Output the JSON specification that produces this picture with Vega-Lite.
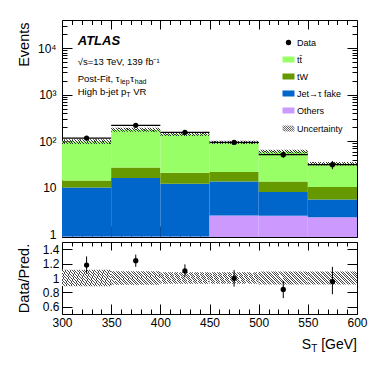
{
  "$schema": "https://vega.github.io/schema/vega-lite/v6.json",
  "background": "white",
  "padding": {"left": 15, "top": 19, "right": 5, "bottom": 5},
  "datasets": {
    "stack": [
      {"lo": 300, "hi": 350, "process": "Others", "events": 0.9},
      {"lo": 300, "hi": 350, "process": "Jet→τ fake", "events": 9.3},
      {"lo": 300, "hi": 350, "process": "tW", "events": 4.2},
      {"lo": 300, "hi": 350, "process": "tt̄", "events": 84.6},
      {"lo": 350, "hi": 400, "process": "Others", "events": 0.9},
      {"lo": 350, "hi": 400, "process": "Jet→τ fake", "events": 15.3},
      {"lo": 350, "hi": 400, "process": "tW", "events": 11.2},
      {"lo": 350, "hi": 400, "process": "tt̄", "events": 149.6},
      {"lo": 400, "hi": 450, "process": "Others", "events": 0.9},
      {"lo": 400, "hi": 450, "process": "Jet→τ fake", "events": 11.4},
      {"lo": 400, "hi": 450, "process": "tW", "events": 8.8},
      {"lo": 400, "hi": 450, "process": "tt̄", "events": 119.9},
      {"lo": 450, "hi": 500, "process": "Others", "events": 2.56},
      {"lo": 450, "hi": 500, "process": "Jet→τ fake", "events": 11.1},
      {"lo": 450, "hi": 500, "process": "tW", "events": 8.1},
      {"lo": 450, "hi": 500, "process": "tt̄", "events": 73.2},
      {"lo": 500, "hi": 550, "process": "Others", "events": 2.5},
      {"lo": 500, "hi": 550, "process": "Jet→τ fake", "events": 5.6},
      {"lo": 500, "hi": 550, "process": "tW", "events": 5.6},
      {"lo": 500, "hi": 550, "process": "tt̄", "events": 46.3},
      {"lo": 550, "hi": 600, "process": "Others", "events": 2.35},
      {"lo": 550, "hi": 600, "process": "Jet→τ fake", "events": 3.25},
      {"lo": 550, "hi": 600, "process": "tW", "events": 4.8},
      {"lo": 550, "hi": 600, "process": "tt̄", "events": 22.6}
    ],
    "bins": [
      {"lo": 300, "hi": 350, "mid": 325, "process": "Data", "data": 117, "data_lo": 106, "data_hi": 128, "pred_lo": 87.6, "pred_hi": 110.4, "ratio": 1.18, "ratio_lo": 1.06, "ratio_hi": 1.30, "rband_lo": 0.885, "rband_hi": 1.115},
      {"lo": 350, "hi": 400, "mid": 375, "process": "Data", "data": 219, "data_lo": 204, "data_hi": 234, "pred_lo": 160.2, "pred_hi": 193.8, "ratio": 1.24, "ratio_lo": 1.155, "ratio_hi": 1.325, "rband_lo": 0.905, "rband_hi": 1.095},
      {"lo": 400, "hi": 450, "mid": 425, "process": "Data", "data": 155, "data_lo": 142.5, "data_hi": 167.5, "pred_lo": 129.7, "pred_hi": 152.3, "ratio": 1.10, "ratio_lo": 1.01, "ratio_hi": 1.19, "rband_lo": 0.92, "rband_hi": 1.08},
      {"lo": 450, "hi": 500, "mid": 475, "process": "Data", "data": 94.5, "data_lo": 83.7, "data_hi": 105.3, "pred_lo": 87.4, "pred_hi": 102.6, "ratio": 0.995, "ratio_lo": 0.88, "ratio_hi": 1.11, "rband_lo": 0.92, "rband_hi": 1.08},
      {"lo": 500, "hi": 550, "mid": 525, "process": "Data", "data": 51.4, "data_lo": 44.2, "data_hi": 58.6, "pred_lo": 54.6, "pred_hi": 65.4, "ratio": 0.842, "ratio_lo": 0.72, "ratio_hi": 0.96, "rband_lo": 0.91, "rband_hi": 1.09},
      {"lo": 550, "hi": 600, "mid": 575, "process": "Data", "data": 31.4, "data_lo": 25.1, "data_hi": 37.7, "pred_lo": 30.0, "pred_hi": 36.0, "ratio": 0.95, "ratio_lo": 0.775, "ratio_hi": 1.155, "rband_lo": 0.91, "rband_hi": 1.09}
    ]
  },
  "config": {
    "font": "Liberation Sans",
    "view": {"stroke": "#000", "strokeWidth": 1},
    "axis": {
      "labelFont": "Liberation Sans", "titleFont": "Liberation Sans",
      "labelColor": "#000", "titleColor": "#000", "tickColor": "#000",
      "domain": false, "grid": false, "labelFlush": false, "labelOverlap": false,
      "labelBound": false, "titleFontWeight": "normal", "labelFontSize": 12, "titleFontSize": 14.5,
      "tickWidth": 1
    }
  },
  "spacing": 0,
  "vconcat": [
    {
      "width": 295,
      "height": 217,
      "resolve": {"axis": {"x": "independent", "y": "independent"}},
      "layer": [
        {
          "data": {"name": "stack"},
          "transform": [
            {"calculate": "indexof(['Others','Jet→τ fake','tW','tt̄'], datum.process)", "as": "ord"},
            {"stack": "events", "groupby": ["lo"], "sort": [{"field": "ord", "order": "ascending"}], "as": ["ev0", "ev1"]}
          ],
          "mark": {"type": "bar", "stroke": null},
          "encoding": {
            "x": {"field": "lo", "type": "quantitative", "scale": {"domain": [300, 600], "nice": false, "zero": false}, "axis": null},
            "x2": {"field": "hi"},
            "y": {"field": "ev1", "type": "quantitative", "scale": {"type": "log", "domain": [0.88, 40000], "nice": false, "clamp": true}, "axis": null},
            "y2": {"field": "ev0"},
            "color": {
              "field": "process", "type": "nominal",
              "scale": {"domain": ["Data", "tt̄", "tW", "Jet→τ fake", "Others", "Uncertainty"], "range": ["#000000", "#99ff66", "#669900", "#0066cc", "#cc99ff", "#888888"]},
              "legend": {"title": null, "orient": "none", "legendX": 222, "legendY": 18, "labelFontSize": 9, "labelFont": "Liberation Sans", "labelColor": "#000", "symbolSize": 144, "rowPadding": 7, "labelOffset": 4, "padding": 0, "symbolOpacity": 1, "symbolStrokeWidth": 0,
                "encode": {"symbols": {"update": {"size": {"signal": "datum.value === 'Data' ? 28 : 144"}, "strokeWidth": {"signal": "datum.value === 'Uncertainty' ? 0.9 : 0"}, "stroke": {"value": "#444"}}}}}
            }
          }
        },
        {
          "data": {"name": "bins"},
          "mark": {"type": "bar", "fill": {"gradient": "linear", "x1": 0, "y1": 1, "x2": 1.0741, "y2": 0.9127, "stops": [
            {"offset": 0, "color": "#333333"}, {"offset": 0.02, "color": "#333333"}, {"offset": 0.02, "color": "rgba(0,0,0,0)"}, {"offset": 0.05, "color": "rgba(0,0,0,0)"},
            {"offset": 0.05, "color": "#333333"}, {"offset": 0.07, "color": "#333333"}, {"offset": 0.07, "color": "rgba(0,0,0,0)"}, {"offset": 0.1, "color": "rgba(0,0,0,0)"},
            {"offset": 0.1, "color": "#333333"}, {"offset": 0.12, "color": "#333333"}, {"offset": 0.12, "color": "rgba(0,0,0,0)"}, {"offset": 0.15, "color": "rgba(0,0,0,0)"},
            {"offset": 0.15, "color": "#333333"}, {"offset": 0.17, "color": "#333333"}, {"offset": 0.17, "color": "rgba(0,0,0,0)"}, {"offset": 0.2, "color": "rgba(0,0,0,0)"},
            {"offset": 0.2, "color": "#333333"}, {"offset": 0.22, "color": "#333333"}, {"offset": 0.22, "color": "rgba(0,0,0,0)"}, {"offset": 0.25, "color": "rgba(0,0,0,0)"},
            {"offset": 0.25, "color": "#333333"}, {"offset": 0.27, "color": "#333333"}, {"offset": 0.27, "color": "rgba(0,0,0,0)"}, {"offset": 0.3, "color": "rgba(0,0,0,0)"},
            {"offset": 0.3, "color": "#333333"}, {"offset": 0.32, "color": "#333333"}, {"offset": 0.32, "color": "rgba(0,0,0,0)"}, {"offset": 0.35, "color": "rgba(0,0,0,0)"},
            {"offset": 0.35, "color": "#333333"}, {"offset": 0.37, "color": "#333333"}, {"offset": 0.37, "color": "rgba(0,0,0,0)"}, {"offset": 0.4, "color": "rgba(0,0,0,0)"},
            {"offset": 0.4, "color": "#333333"}, {"offset": 0.42, "color": "#333333"}, {"offset": 0.42, "color": "rgba(0,0,0,0)"}, {"offset": 0.45, "color": "rgba(0,0,0,0)"},
            {"offset": 0.45, "color": "#333333"}, {"offset": 0.47, "color": "#333333"}, {"offset": 0.47, "color": "rgba(0,0,0,0)"}, {"offset": 0.5, "color": "rgba(0,0,0,0)"},
            {"offset": 0.5, "color": "#333333"}, {"offset": 0.52, "color": "#333333"}, {"offset": 0.52, "color": "rgba(0,0,0,0)"}, {"offset": 0.55, "color": "rgba(0,0,0,0)"},
            {"offset": 0.55, "color": "#333333"}, {"offset": 0.57, "color": "#333333"}, {"offset": 0.57, "color": "rgba(0,0,0,0)"}, {"offset": 0.6, "color": "rgba(0,0,0,0)"},
            {"offset": 0.6, "color": "#333333"}, {"offset": 0.62, "color": "#333333"}, {"offset": 0.62, "color": "rgba(0,0,0,0)"}, {"offset": 0.65, "color": "rgba(0,0,0,0)"},
            {"offset": 0.65, "color": "#333333"}, {"offset": 0.67, "color": "#333333"}, {"offset": 0.67, "color": "rgba(0,0,0,0)"}, {"offset": 0.7, "color": "rgba(0,0,0,0)"},
            {"offset": 0.7, "color": "#333333"}, {"offset": 0.72, "color": "#333333"}, {"offset": 0.72, "color": "rgba(0,0,0,0)"}, {"offset": 0.75, "color": "rgba(0,0,0,0)"},
            {"offset": 0.75, "color": "#333333"}, {"offset": 0.77, "color": "#333333"}, {"offset": 0.77, "color": "rgba(0,0,0,0)"}, {"offset": 0.8, "color": "rgba(0,0,0,0)"},
            {"offset": 0.8, "color": "#333333"}, {"offset": 0.82, "color": "#333333"}, {"offset": 0.82, "color": "rgba(0,0,0,0)"}, {"offset": 0.85, "color": "rgba(0,0,0,0)"},
            {"offset": 0.85, "color": "#333333"}, {"offset": 0.87, "color": "#333333"}, {"offset": 0.87, "color": "rgba(0,0,0,0)"}, {"offset": 0.9, "color": "rgba(0,0,0,0)"},
            {"offset": 0.9, "color": "#333333"}, {"offset": 0.92, "color": "#333333"}, {"offset": 0.92, "color": "rgba(0,0,0,0)"}, {"offset": 0.95, "color": "rgba(0,0,0,0)"},
            {"offset": 0.95, "color": "#333333"}, {"offset": 0.97, "color": "#333333"}, {"offset": 0.97, "color": "rgba(0,0,0,0)"}, {"offset": 1, "color": "rgba(0,0,0,0)"}
          ]}},
          "encoding": {
            "x": {"field": "lo", "type": "quantitative", "axis": null},
            "x2": {"field": "hi"},
            "y": {"field": "pred_lo", "type": "quantitative", "axis": null},
            "y2": {"field": "pred_hi"}
          }
        },
        {
          "data": {"name": "bins"},
          "mark": {"type": "rule", "color": "#000", "strokeWidth": 1.3},
          "encoding": {
            "x": {"field": "lo", "type": "quantitative", "axis": null},
            "x2": {"field": "hi"},
            "y": {"field": "data", "type": "quantitative", "axis": null}
          }
        },
        {
          "data": {"name": "bins"},
          "mark": {"type": "rule", "color": "#000", "strokeWidth": 1},
          "encoding": {
            "x": {"field": "mid", "type": "quantitative", "axis": null},
            "y": {"field": "data_lo", "type": "quantitative", "axis": null},
            "y2": {"field": "data_hi"}
          }
        },
        {
          "data": {"name": "bins"},
          "mark": {"type": "point", "filled": true, "size": 28, "opacity": 1},
          "encoding": {
            "x": {"field": "mid", "type": "quantitative", "axis": null},
            "y": {"field": "data", "type": "quantitative", "axis": null},
            "color": {
              "field": "process", "type": "nominal",
              "scale": {"domain": ["Data", "tt̄", "tW", "Jet→τ fake", "Others", "Uncertainty"], "range": ["#000000", "#99ff66", "#669900", "#0066cc", "#cc99ff", "#888888"]},
              "legend": {"title": null, "orient": "none", "legendX": 222, "legendY": 18, "labelFontSize": 9, "labelFont": "Liberation Sans", "labelColor": "#000", "symbolSize": 144, "rowPadding": 7, "labelOffset": 4, "padding": 0, "symbolOpacity": 1, "symbolStrokeWidth": 0,
                "encode": {"symbols": {"update": {"size": {"signal": "datum.value === 'Data' ? 28 : 144"}, "strokeWidth": {"signal": "datum.value === 'Uncertainty' ? 0.9 : 0"}, "stroke": {"value": "#444"}}}}}
            },
            "shape": {
              "field": "process", "type": "nominal",
              "scale": {"domain": ["Data", "tt̄", "tW", "Jet→τ fake", "Others", "Uncertainty"], "range": ["circle", "M-1,-0.5H1V0.5H-1Z", "M-1,-0.5H1V0.5H-1Z", "M-1,-0.5H1V0.5H-1Z", "M-1,-0.5H1V0.5H-1Z", "M-1,0.05L-0.55,0.5M-1,-0.3L-0.2,0.5M-0.85,-0.5L0.15,0.5M-0.5,-0.5L0.5,0.5M-0.15,-0.5L0.85,0.5M0.2,-0.5L1,0.3M0.55,-0.5L1,-0.05"]},
              "legend": {"title": null, "orient": "none", "legendX": 222, "legendY": 18, "labelFontSize": 9, "labelFont": "Liberation Sans", "labelColor": "#000", "symbolSize": 144, "rowPadding": 7, "labelOffset": 4, "padding": 0, "symbolOpacity": 1, "symbolStrokeWidth": 0,
                "encode": {"symbols": {"update": {"size": {"signal": "datum.value === 'Data' ? 28 : 144"}, "strokeWidth": {"signal": "datum.value === 'Uncertainty' ? 0.9 : 0"}, "stroke": {"value": "#444"}}}}}
            }
          }
        },
        {
          "data": {"name": "bins"},
          "mark": {"type": "point", "opacity": 0},
          "encoding": {
            "x": {"field": "mid", "type": "quantitative", "axis": null},
            "y": {"field": "data", "type": "quantitative", "axis": {"orient": "left", "values": [1, 10, 100, 1000, 10000], "ticks": false, "tickSize": 0, "labelPadding": 6, "labelFontSize": 12,
              "labelExpr": "datum.value < 5 ? '1' : datum.value < 50 ? '10' : datum.value < 500 ? '10²' : datum.value < 5000 ? '10³' : '10⁴'",
              "title": "Events", "titleFontSize": 14.5, "titleAngle": 270, "titleX": -38, "titleY": 2, "titleAlign": "right", "titleBaseline": "middle"}}
          }
        },
        {
          "data": {"name": "bins"},
          "mark": {"type": "point", "opacity": 0},
          "encoding": {
            "x": {"field": "mid", "type": "quantitative", "axis": {"orient": "bottom", "values": [300, 350, 400, 450, 500, 550, 600], "labels": false, "tickSize": -11, "title": null}},
            "y": {"field": "data", "type": "quantitative", "axis": {"orient": "left", "values": [1, 10, 100, 1000, 10000], "labels": false, "tickSize": -10, "title": null}}
          }
        },
        {
          "data": {"name": "bins"},
          "mark": {"type": "point", "opacity": 0},
          "encoding": {
            "x": {"field": "mid", "type": "quantitative", "axis": {"orient": "bottom", "values": [310, 320, 330, 340, 360, 370, 380, 390, 410, 420, 430, 440, 460, 470, 480, 490, 510, 520, 530, 540, 560, 570, 580, 590], "labels": false, "tickSize": -5, "title": null}},
            "y": {"field": "data", "type": "quantitative", "axis": {"orient": "left", "values": [2, 3, 4, 5, 6, 7, 8, 9, 20, 30, 40, 50, 60, 70, 80, 90, 200, 300, 400, 500, 600, 700, 800, 900, 2000, 3000, 4000, 5000, 6000, 7000, 8000, 9000, 20000, 30000], "labels": false, "tickSize": -5, "title": null}}
          }
        },
        {
          "data": {"name": "bins"},
          "mark": {"type": "point", "opacity": 0},
          "encoding": {
            "x": {"field": "mid", "type": "quantitative", "axis": {"orient": "top", "values": [300, 350, 400, 450, 500, 550, 600], "labels": false, "tickSize": -9, "title": null}},
            "y": {"field": "data", "type": "quantitative", "axis": {"orient": "right", "values": [1, 10, 100, 1000, 10000], "labels": false, "tickSize": -10, "title": null}}
          }
        },
        {
          "data": {"name": "bins"},
          "mark": {"type": "point", "opacity": 0},
          "encoding": {
            "x": {"field": "mid", "type": "quantitative", "axis": {"orient": "top", "values": [310, 320, 330, 340, 360, 370, 380, 390, 410, 420, 430, 440, 460, 470, 480, 490, 510, 520, 530, 540, 560, 570, 580, 590], "labels": false, "tickSize": -4.5, "title": null}},
            "y": {"field": "data", "type": "quantitative", "axis": {"orient": "right", "values": [2, 3, 4, 5, 6, 7, 8, 9, 20, 30, 40, 50, 60, 70, 80, 90, 200, 300, 400, 500, 600, 700, 800, 900, 2000, 3000, 4000, 5000, 6000, 7000, 8000, 9000, 20000, 30000], "labels": false, "tickSize": -5, "title": null}}
          }
        },
        {
          "data": {"values": [{}]},
          "mark": {"type": "text", "text": "ATLAS", "font": "Liberation Sans", "fontSize": 13, "fontWeight": "bold", "fontStyle": "italic", "align": "left", "baseline": "alphabetic", "color": "#000"},
          "encoding": {"x": {"datum": 316, "type": "quantitative", "axis": null}, "y": {"datum": 11500, "type": "quantitative", "axis": null}}
        },
        {
          "data": {"values": [{}]},
          "mark": {"type": "text", "text": "√s=13 TeV, 139 fb⁻¹", "font": "Liberation Sans", "fontSize": 9.5, "align": "left", "baseline": "alphabetic", "color": "#000"},
          "encoding": {"x": {"datum": 316, "type": "quantitative", "axis": null}, "y": {"datum": 4305, "type": "quantitative", "axis": null}}
        },
        {
          "data": {"values": [{}]},
          "mark": {"type": "text", "text": "Post-Fit, τ", "font": "Liberation Sans", "fontSize": 9.5, "align": "left", "baseline": "alphabetic", "color": "#000"},
          "encoding": {"x": {"datum": 316, "type": "quantitative", "axis": null}, "y": {"datum": 1905, "type": "quantitative", "axis": null}}
        },
        {
          "data": {"values": [{}]},
          "mark": {"type": "text", "text": "lep", "font": "Liberation Sans", "fontSize": 7, "align": "left", "baseline": "alphabetic", "dx": 42.5, "dy": 2.5, "color": "#000"},
          "encoding": {"x": {"datum": 316, "type": "quantitative", "axis": null}, "y": {"datum": 1905, "type": "quantitative", "axis": null}}
        },
        {
          "data": {"values": [{}]},
          "mark": {"type": "text", "text": "τ", "font": "Liberation Sans", "fontSize": 9.5, "align": "left", "baseline": "alphabetic", "dx": 52.5, "color": "#000"},
          "encoding": {"x": {"datum": 316, "type": "quantitative", "axis": null}, "y": {"datum": 1905, "type": "quantitative", "axis": null}}
        },
        {
          "data": {"values": [{}]},
          "mark": {"type": "text", "text": "had", "font": "Liberation Sans", "fontSize": 7, "align": "left", "baseline": "alphabetic", "dx": 57, "dy": 2.5, "color": "#000"},
          "encoding": {"x": {"datum": 316, "type": "quantitative", "axis": null}, "y": {"datum": 1905, "type": "quantitative", "axis": null}}
        },
        {
          "data": {"values": [{}]},
          "mark": {"type": "text", "text": "High b-jet p", "font": "Liberation Sans", "fontSize": 9.5, "align": "left", "baseline": "alphabetic", "color": "#000"},
          "encoding": {"x": {"datum": 316, "type": "quantitative", "axis": null}, "y": {"datum": 989, "type": "quantitative", "axis": null}}
        },
        {
          "data": {"values": [{}]},
          "mark": {"type": "text", "text": "T", "font": "Liberation Sans", "fontSize": 7, "align": "left", "baseline": "alphabetic", "dx": 48.6, "dy": 2.5, "color": "#000"},
          "encoding": {"x": {"datum": 316, "type": "quantitative", "axis": null}, "y": {"datum": 989, "type": "quantitative", "axis": null}}
        },
        {
          "data": {"values": [{}]},
          "mark": {"type": "text", "text": "VR", "font": "Liberation Sans", "fontSize": 9.5, "align": "left", "baseline": "alphabetic", "dx": 55.5, "color": "#000"},
          "encoding": {"x": {"datum": 316, "type": "quantitative", "axis": null}, "y": {"datum": 989, "type": "quantitative", "axis": null}}
        }
      ]
    },
    {
      "width": 295,
      "height": 72,
      "resolve": {"axis": {"x": "independent", "y": "independent"}},
      "layer": [
        {
          "data": {"name": "bins"},
          "mark": {"type": "bar", "fill": {"gradient": "linear", "x1": 0, "y1": 1, "x2": 1.1817, "y2": 0.6878, "stops": [
            {"offset": 0, "color": "#4a4a4a"}, {"offset": 0.016, "color": "#4a4a4a"}, {"offset": 0.016, "color": "#ffffff"}, {"offset": 0.04, "color": "#ffffff"},
            {"offset": 0.04, "color": "#4a4a4a"}, {"offset": 0.056, "color": "#4a4a4a"}, {"offset": 0.056, "color": "#ffffff"}, {"offset": 0.08, "color": "#ffffff"},
            {"offset": 0.08, "color": "#4a4a4a"}, {"offset": 0.096, "color": "#4a4a4a"}, {"offset": 0.096, "color": "#ffffff"}, {"offset": 0.12, "color": "#ffffff"},
            {"offset": 0.12, "color": "#4a4a4a"}, {"offset": 0.136, "color": "#4a4a4a"}, {"offset": 0.136, "color": "#ffffff"}, {"offset": 0.16, "color": "#ffffff"},
            {"offset": 0.16, "color": "#4a4a4a"}, {"offset": 0.176, "color": "#4a4a4a"}, {"offset": 0.176, "color": "#ffffff"}, {"offset": 0.2, "color": "#ffffff"},
            {"offset": 0.2, "color": "#4a4a4a"}, {"offset": 0.216, "color": "#4a4a4a"}, {"offset": 0.216, "color": "#ffffff"}, {"offset": 0.24, "color": "#ffffff"},
            {"offset": 0.24, "color": "#4a4a4a"}, {"offset": 0.256, "color": "#4a4a4a"}, {"offset": 0.256, "color": "#ffffff"}, {"offset": 0.28, "color": "#ffffff"},
            {"offset": 0.28, "color": "#4a4a4a"}, {"offset": 0.296, "color": "#4a4a4a"}, {"offset": 0.296, "color": "#ffffff"}, {"offset": 0.32, "color": "#ffffff"},
            {"offset": 0.32, "color": "#4a4a4a"}, {"offset": 0.336, "color": "#4a4a4a"}, {"offset": 0.336, "color": "#ffffff"}, {"offset": 0.36, "color": "#ffffff"},
            {"offset": 0.36, "color": "#4a4a4a"}, {"offset": 0.376, "color": "#4a4a4a"}, {"offset": 0.376, "color": "#ffffff"}, {"offset": 0.4, "color": "#ffffff"},
            {"offset": 0.4, "color": "#4a4a4a"}, {"offset": 0.416, "color": "#4a4a4a"}, {"offset": 0.416, "color": "#ffffff"}, {"offset": 0.44, "color": "#ffffff"},
            {"offset": 0.44, "color": "#4a4a4a"}, {"offset": 0.456, "color": "#4a4a4a"}, {"offset": 0.456, "color": "#ffffff"}, {"offset": 0.48, "color": "#ffffff"},
            {"offset": 0.48, "color": "#4a4a4a"}, {"offset": 0.496, "color": "#4a4a4a"}, {"offset": 0.496, "color": "#ffffff"}, {"offset": 0.52, "color": "#ffffff"},
            {"offset": 0.52, "color": "#4a4a4a"}, {"offset": 0.536, "color": "#4a4a4a"}, {"offset": 0.536, "color": "#ffffff"}, {"offset": 0.56, "color": "#ffffff"},
            {"offset": 0.56, "color": "#4a4a4a"}, {"offset": 0.576, "color": "#4a4a4a"}, {"offset": 0.576, "color": "#ffffff"}, {"offset": 0.6, "color": "#ffffff"},
            {"offset": 0.6, "color": "#4a4a4a"}, {"offset": 0.616, "color": "#4a4a4a"}, {"offset": 0.616, "color": "#ffffff"}, {"offset": 0.64, "color": "#ffffff"},
            {"offset": 0.64, "color": "#4a4a4a"}, {"offset": 0.656, "color": "#4a4a4a"}, {"offset": 0.656, "color": "#ffffff"}, {"offset": 0.68, "color": "#ffffff"},
            {"offset": 0.68, "color": "#4a4a4a"}, {"offset": 0.696, "color": "#4a4a4a"}, {"offset": 0.696, "color": "#ffffff"}, {"offset": 0.72, "color": "#ffffff"},
            {"offset": 0.72, "color": "#4a4a4a"}, {"offset": 0.736, "color": "#4a4a4a"}, {"offset": 0.736, "color": "#ffffff"}, {"offset": 0.76, "color": "#ffffff"},
            {"offset": 0.76, "color": "#4a4a4a"}, {"offset": 0.776, "color": "#4a4a4a"}, {"offset": 0.776, "color": "#ffffff"}, {"offset": 0.8, "color": "#ffffff"},
            {"offset": 0.8, "color": "#4a4a4a"}, {"offset": 0.816, "color": "#4a4a4a"}, {"offset": 0.816, "color": "#ffffff"}, {"offset": 0.84, "color": "#ffffff"},
            {"offset": 0.84, "color": "#4a4a4a"}, {"offset": 0.856, "color": "#4a4a4a"}, {"offset": 0.856, "color": "#ffffff"}, {"offset": 0.88, "color": "#ffffff"},
            {"offset": 0.88, "color": "#4a4a4a"}, {"offset": 0.896, "color": "#4a4a4a"}, {"offset": 0.896, "color": "#ffffff"}, {"offset": 0.92, "color": "#ffffff"},
            {"offset": 0.92, "color": "#4a4a4a"}, {"offset": 0.936, "color": "#4a4a4a"}, {"offset": 0.936, "color": "#ffffff"}, {"offset": 0.96, "color": "#ffffff"},
            {"offset": 0.96, "color": "#4a4a4a"}, {"offset": 0.976, "color": "#4a4a4a"}, {"offset": 0.976, "color": "#ffffff"}, {"offset": 1, "color": "#ffffff"}
          ]}},
          "encoding": {
            "x": {"field": "lo", "type": "quantitative", "scale": {"domain": [300, 600], "nice": false, "zero": false}, "axis": null},
            "x2": {"field": "hi"},
            "y": {"field": "rband_lo", "type": "quantitative", "scale": {"domain": [0.5, 1.5], "nice": false, "zero": false}, "axis": null},
            "y2": {"field": "rband_hi"}
          }
        },
        {
          "data": {"name": "bins"},
          "mark": {"type": "rule", "color": "#000", "strokeWidth": 1},
          "encoding": {
            "x": {"field": "mid", "type": "quantitative", "axis": null},
            "y": {"field": "ratio_lo", "type": "quantitative", "axis": null},
            "y2": {"field": "ratio_hi"}
          }
        },
        {
          "data": {"name": "bins"},
          "mark": {"type": "point", "filled": true, "size": 28, "opacity": 1, "color": "#000"},
          "encoding": {
            "x": {"field": "mid", "type": "quantitative", "axis": null},
            "y": {"field": "ratio", "type": "quantitative", "axis": null}
          }
        },
        {
          "data": {"name": "bins"},
          "mark": {"type": "point", "opacity": 0},
          "encoding": {
            "x": {"field": "mid", "type": "quantitative", "axis": {"orient": "bottom", "values": [300, 350, 400, 450, 500, 550, 600], "ticks": false, "tickSize": 0, "labelPadding": 3, "labelFontSize": 12, "title": null}},
            "y": {"field": "ratio", "type": "quantitative", "axis": {"orient": "left", "values": [0.6, 0.8, 1, 1.2, 1.4], "ticks": false, "tickSize": 0, "labelPadding": 3, "labelFontSize": 12, "format": ".1~f",
              "title": "Data/Pred.", "titleFontSize": 14.5, "titleAngle": 270, "titleX": -38, "titleY": 36, "titleAlign": "center", "titleBaseline": "middle"}}
          }
        },
        {
          "data": {"name": "bins"},
          "mark": {"type": "point", "opacity": 0},
          "encoding": {
            "x": {"field": "mid", "type": "quantitative", "axis": {"orient": "bottom", "values": [300, 350, 400, 450, 500, 550, 600], "labels": false, "tickSize": -10, "title": null}},
            "y": {"field": "ratio", "type": "quantitative", "axis": {"orient": "left", "values": [0.6, 0.8, 1, 1.2, 1.4], "labels": false, "tickSize": -10, "title": null}}
          }
        },
        {
          "data": {"name": "bins"},
          "mark": {"type": "point", "opacity": 0},
          "encoding": {
            "x": {"field": "mid", "type": "quantitative", "axis": {"orient": "bottom", "values": [310, 320, 330, 340, 360, 370, 380, 390, 410, 420, 430, 440, 460, 470, 480, 490, 510, 520, 530, 540, 560, 570, 580, 590], "labels": false, "tickSize": -5, "title": null}},
            "y": {"field": "ratio", "type": "quantitative", "axis": null}
          }
        },
        {
          "data": {"name": "bins"},
          "mark": {"type": "point", "opacity": 0},
          "encoding": {
            "x": {"field": "mid", "type": "quantitative", "axis": {"orient": "top", "values": [300, 350, 400, 450, 500, 550, 600], "labels": false, "tickSize": -8, "title": null}},
            "y": {"field": "ratio", "type": "quantitative", "axis": {"orient": "right", "values": [0.6, 0.8, 1, 1.2, 1.4], "labels": false, "tickSize": -10, "title": null}}
          }
        },
        {
          "data": {"name": "bins"},
          "mark": {"type": "point", "opacity": 0},
          "encoding": {
            "x": {"field": "mid", "type": "quantitative", "axis": {"orient": "top", "values": [310, 320, 330, 340, 360, 370, 380, 390, 410, 420, 430, 440, 460, 470, 480, 490, 510, 520, 530, 540, 560, 570, 580, 590], "labels": false, "tickSize": -4, "title": null}},
            "y": {"field": "ratio", "type": "quantitative", "axis": null}
          }
        },
        {
          "data": {"values": [{}]},
          "mark": {"type": "text", "text": "[GeV]", "font": "Liberation Sans", "fontSize": 14, "align": "right", "baseline": "alphabetic", "dy": 35, "color": "#000"},
          "encoding": {"x": {"datum": 600, "type": "quantitative", "axis": null}, "y": {"datum": 0.5, "type": "quantitative", "axis": null}}
        },
        {
          "data": {"values": [{}]},
          "mark": {"type": "text", "text": "T", "font": "Liberation Sans", "fontSize": 10, "align": "right", "baseline": "alphabetic", "dx": -39.7, "dy": 38, "color": "#000"},
          "encoding": {"x": {"datum": 600, "type": "quantitative", "axis": null}, "y": {"datum": 0.5, "type": "quantitative", "axis": null}}
        },
        {
          "data": {"values": [{}]},
          "mark": {"type": "text", "text": "S", "font": "Liberation Sans", "fontSize": 14, "align": "right", "baseline": "alphabetic", "dx": -45.8, "dy": 35, "color": "#000"},
          "encoding": {"x": {"datum": 600, "type": "quantitative", "axis": null}, "y": {"datum": 0.5, "type": "quantitative", "axis": null}}
        }
      ]
    }
  ]
}
